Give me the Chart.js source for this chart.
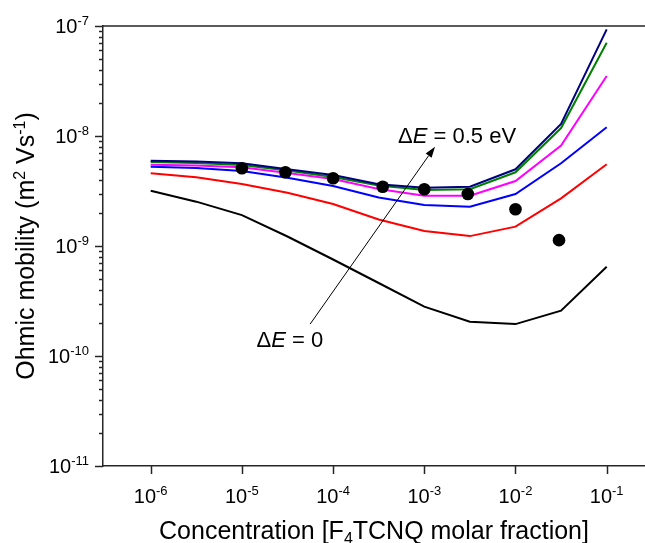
<!DOCTYPE html>
<html><head><meta charset="utf-8">
<script src="https://cdn.jsdelivr.net/npm/chart.js@4.4.1/dist/chart.umd.min.js"></script>
<style>html,body{margin:0;padding:0;background:#fff;overflow:hidden;}#wrap{width:645px;height:543px;position:relative;}</style>
</head><body><div id="wrap"><canvas id="c"></canvas></div>
<script>
// ---- data ----
const concentration = [1e-6, 3.16e-6, 1e-5, 3.16e-5, 1e-4, 3.16e-4, 1e-3, 3.16e-3, 1e-2, 3.16e-2, 1e-1];
const muDE00 = [3.18e-9, 2.53e-9, 1.91e-9, 1.22e-9, 7.54e-10, 4.61e-10, 2.81e-10, 2.05e-10, 1.95e-10, 2.58e-10, 6.48e-10];
const muDE01 = [4.58e-9, 4.21e-9, 3.66e-9, 3.05e-9, 2.41e-9, 1.74e-9, 1.37e-9, 1.23e-9, 1.50e-9, 2.71e-9, 5.53e-9];
const muDE02 = [5.26e-9, 5.12e-9, 4.81e-9, 4.18e-9, 3.51e-9, 2.76e-9, 2.36e-9, 2.28e-9, 2.97e-9, 5.65e-9, 1.20e-8];
const muDE03 = [5.48e-9, 5.39e-9, 5.19e-9, 4.61e-9, 4.06e-9, 3.30e-9, 2.87e-9, 2.87e-9, 3.90e-9, 8.20e-9, 3.51e-8];
const muDE04 = [5.80e-9, 5.68e-9, 5.45e-9, 4.86e-9, 4.24e-9, 3.55e-9, 3.23e-9, 3.28e-9, 4.68e-9, 1.18e-8, 7.05e-8];
const muDE05 = [5.96e-9, 5.86e-9, 5.65e-9, 4.98e-9, 4.42e-9, 3.64e-9, 3.39e-9, 3.46e-9, 4.98e-9, 1.29e-8, 9.33e-8];
const expConcentration = [1e-5, 3e-5, 1e-4, 3.5e-4, 1e-3, 3e-3, 1e-2, 3e-2];
const expMobility = [5.09e-9, 4.68e-9, 4.13e-9, 3.46e-9, 3.28e-9, 2.97e-9, 2.16e-9, 1.13e-9];
const seriesNames = ['\u0394E = 0', '\u0394E = 0.1 eV', '\u0394E = 0.2 eV', '\u0394E = 0.3 eV', '\u0394E = 0.4 eV', '\u0394E = 0.5 eV'];
const xTickValues = [1e-6, 1e-5, 1e-4, 1e-3, 1e-2, 1e-1];
const yTickValues = [1e-11, 1e-10, 1e-9, 1e-8, 1e-7];
const xRange = [Math.pow(10, -6.523), Math.pow(10, -0.58)];
const yRange = [1e-11, 1e-7];
// annotation anchors in data coordinates
const arrowFrom = [5.6e-5, 1.95e-10];
const arrowTo = [1.31e-3, 8.0e-9];
const labelHigh = {pos: [5.15e-4, 8.6e-9], value: '0.5 eV'};
const labelLow = {pos: [1.45e-5, 1.22e-10], value: '0'};
const xTitleParts = [['Concentration [F', 0], ['4', 1], ['TCNQ molar fraction]', 0]];
const yTitleParts = [['Ohmic mobility (m', 0], ['2', 2], [' Vs', 0], ['-1', 2], [')', 0]];

// ---- styling ----
const FONT = "'Liberation Sans', Arial, sans-serif";
const AXIS = '#262626';
const colors = ['#000000', '#ff0000', '#0000ff', '#ff00ff', '#008000', '#000080'];
const seriesData = [muDE00, muDE01, muDE02, muDE03, muDE04, muDE05];

function expOf(v) { return String(Math.round(Math.log10(v))); }

// text runs; kind 0 = normal, 1 = subscript, 2 = superscript
function richWidth(ctx, parts, size, small) {
  let w = 0;
  parts.forEach(([t, k]) => { ctx.font = (k ? small : size) + 'px ' + FONT; w += ctx.measureText(t).width; });
  return w;
}
function drawRich(ctx, parts, x, y, size, small, sub, sup) {
  parts.forEach(([t, k]) => {
    ctx.font = (k ? small : size) + 'px ' + FONT;
    const dy = k === 1 ? sub : (k === 2 ? -sup : 0);
    ctx.fillText(t, x, y + dy);
    x += ctx.measureText(t).width;
  });
}

const decorations = {
  id: 'decorations',
  afterDraw(chart) {
    const {ctx, chartArea: a, scales: {x, y}} = chart;
    ctx.save();
    ctx.strokeStyle = AXIS;
    ctx.lineWidth = 1.5;
    ctx.beginPath();
    ctx.moveTo(a.left - 0.75, a.top); ctx.lineTo(a.right, a.top);
    xTickValues.forEach(v => {
      const px = Math.round(x.getPixelForValue(v)) + 0.5;
      ctx.moveTo(px, a.bottom); ctx.lineTo(px, a.bottom + 8);
    });
    const eMin = Math.round(Math.log10(yRange[0])), eMax = Math.round(Math.log10(yRange[1]));
    for (let e = eMin; e <= eMax; e++) {
      for (let m = 1; m <= 9; m++) {
        const v = m * Math.pow(10, e);
        if (v > yRange[1] * 1.0001) break;
        const py = Math.round(y.getPixelForValue(v)) + 0.5;
        const len = m === 1 ? 8 : 4;
        ctx.moveTo(a.left, py); ctx.lineTo(a.left - len, py);
      }
    }
    ctx.stroke();

    // tick labels 10^n
    ctx.fillStyle = '#000';
    ctx.textBaseline = 'alphabetic'; ctx.textAlign = 'left';
    xTickValues.forEach(v => {
      const parts = [['10', 0], [expOf(v), 2]];
      const w = richWidth(ctx, parts, 20, 13);
      drawRich(ctx, parts, x.getPixelForValue(v) - w / 2, a.bottom + 37, 20, 13, 0, 8);
    });
    yTickValues.forEach(v => {
      const parts = [['10', 0], [expOf(v), 2]];
      const w = richWidth(ctx, parts, 20, 13);
      drawRich(ctx, parts, a.left - 14 - w, y.getPixelForValue(v) + 7, 20, 13, 0, 8);
    });

    // axis titles
    const wx = richWidth(ctx, xTitleParts, 25, 16);
    drawRich(ctx, xTitleParts, (a.left + a.right) / 2 - wx / 2, chart.height - 4, 25, 16, 5, 0);
    ctx.save();
    ctx.translate(34, (a.top + a.bottom) / 2);
    ctx.rotate(-Math.PI / 2);
    const wy = richWidth(ctx, yTitleParts, 25, 16);
    drawRich(ctx, yTitleParts, -wy / 2, 0, 25, 16, 0, 9);
    ctx.restore();

    // arrow
    const x0 = x.getPixelForValue(arrowFrom[0]), y0 = y.getPixelForValue(arrowFrom[1]);
    const x1 = x.getPixelForValue(arrowTo[0]), y1 = y.getPixelForValue(arrowTo[1]);
    const ang = Math.atan2(y1 - y0, x1 - x0);
    const hl = 11, hw = 3.6;
    ctx.strokeStyle = '#000'; ctx.fillStyle = '#000'; ctx.lineWidth = 1;
    ctx.beginPath();
    ctx.moveTo(x0, y0);
    ctx.lineTo(x1 - hl * Math.cos(ang), y1 - hl * Math.sin(ang));
    ctx.stroke();
    ctx.beginPath();
    ctx.moveTo(x1, y1);
    ctx.lineTo(x1 - hl * Math.cos(ang) + hw * Math.sin(ang), y1 - hl * Math.sin(ang) - hw * Math.cos(ang));
    ctx.lineTo(x1 - hl * Math.cos(ang) - hw * Math.sin(ang), y1 - hl * Math.sin(ang) + hw * Math.cos(ang));
    ctx.closePath(); ctx.fill();

    // annotation texts: "ΔE = ..."
    function deltaLabel(lbl, size) {
      let px = x.getPixelForValue(lbl.pos[0]);
      const py = y.getPixelForValue(lbl.pos[1]);
      ctx.font = size + 'px ' + FONT;
      ctx.fillText('\u0394', px, py); px += ctx.measureText('\u0394').width;
      ctx.font = 'italic ' + size + 'px ' + FONT;
      ctx.fillText('E', px, py); px += ctx.measureText('E').width;
      ctx.font = size + 'px ' + FONT;
      ctx.fillText(' = ' + lbl.value, px, py);
    }
    deltaLabel(labelHigh, 22);
    deltaLabel(labelLow, 22);
    ctx.restore();
  }
};

const datasets = [{
  label: 'Experiment',
  data: expConcentration.map((c, i) => ({x: c, y: expMobility[i]})),
  showLine: false,
  pointRadius: 6.3,
  pointBackgroundColor: '#000',
  pointBorderWidth: 0,
  borderColor: '#000'
}];
for (let s = seriesData.length - 1; s >= 0; s--) {
  datasets.push({
    label: seriesNames[s],
    data: concentration.map((c, i) => ({x: c, y: seriesData[s][i]})),
    showLine: true,
    borderColor: colors[s],
    backgroundColor: colors[s],
    borderWidth: 2,
    pointRadius: 0,
    tension: 0
  });
}

new Chart(document.getElementById('c'), {
  type: 'scatter',
  data: {datasets},
  options: {
    responsive: true,
    maintainAspectRatio: false,
    animation: false,
    layout: {autoPadding: false, padding: {top: 26, right: 0, left: 0, bottom: 0}},
    plugins: {legend: {display: false}, tooltip: {enabled: false}},
    scales: {
      x: {
        type: 'logarithmic',
        min: xRange[0], max: xRange[1],
        afterBuildTicks: s => { s.ticks = xTickValues.map(v => ({value: v})); },
        afterFit: s => { s.height = 77; s.paddingLeft = 0; s.paddingRight = 0; },
        grid: {display: false, drawTicks: false},
        border: {display: true, color: AXIS, width: 1.5},
        ticks: {display: false},
        title: {display: false}
      },
      y: {
        type: 'logarithmic',
        min: yRange[0], max: yRange[1],
        afterBuildTicks: s => { s.ticks = yTickValues.map(v => ({value: v})); },
        afterFit: s => { s.width = 103; s.paddingTop = 0; s.paddingBottom = 0; },
        grid: {display: false, drawTicks: false},
        border: {display: true, color: AXIS, width: 1.5},
        ticks: {display: false},
        title: {display: false}
      }
    }
  },
  plugins: [decorations]
});
</script>
</body></html>
